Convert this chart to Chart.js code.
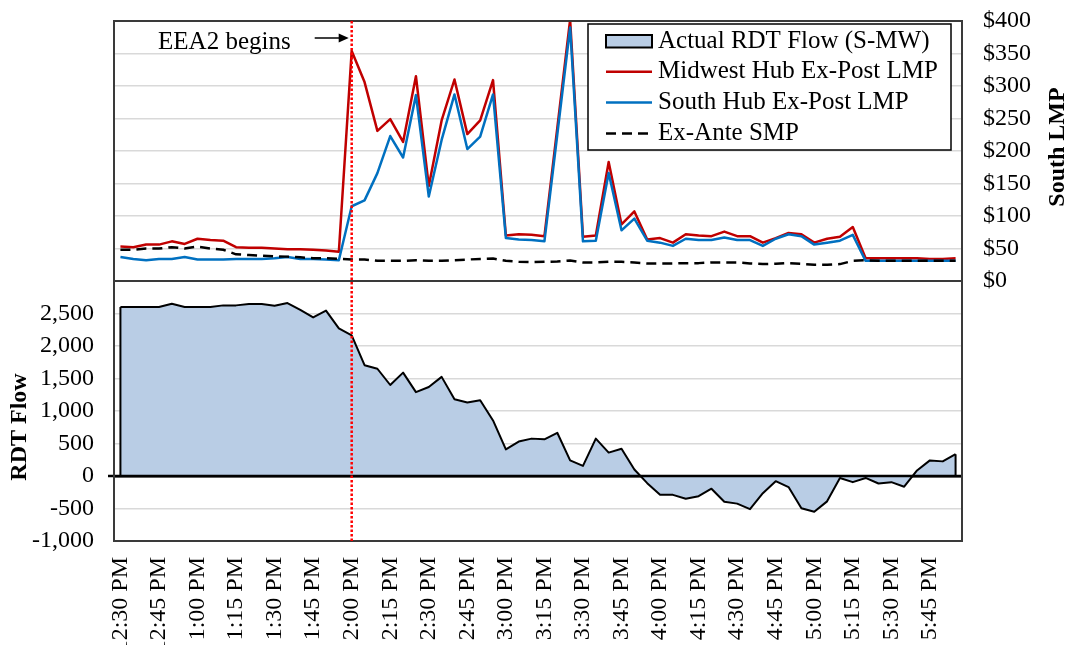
<!DOCTYPE html>
<html>
<head>
<meta charset="utf-8">
<title>RDT Flow and Hub LMPs</title>
<script src="https://cdn.jsdelivr.net/npm/chart.js@4/dist/chart.umd.min.js"></script>
<style>
  html, body { margin: 0; padding: 0; background: #fff; }
  #wrap { width: 1072px; height: 645px; }
</style>
</head>
<body>
<div id="wrap"><canvas id="rdtChart" width="1072" height="645"></canvas></div>
<script>
const timeLabels = [
    '12:30 PM', '12:35 PM', '12:40 PM', '12:45 PM', '12:50 PM', '12:55 PM',
    '1:00 PM', '1:05 PM', '1:10 PM', '1:15 PM', '1:20 PM', '1:25 PM',
    '1:30 PM', '1:35 PM', '1:40 PM', '1:45 PM', '1:50 PM', '1:55 PM',
    '2:00 PM', '2:05 PM', '2:10 PM', '2:15 PM', '2:20 PM', '2:25 PM',
    '2:30 PM', '2:35 PM', '2:40 PM', '2:45 PM', '2:50 PM', '2:55 PM',
    '3:00 PM', '3:05 PM', '3:10 PM', '3:15 PM', '3:20 PM', '3:25 PM',
    '3:30 PM', '3:35 PM', '3:40 PM', '3:45 PM', '3:50 PM', '3:55 PM',
    '4:00 PM', '4:05 PM', '4:10 PM', '4:15 PM', '4:20 PM', '4:25 PM',
    '4:30 PM', '4:35 PM', '4:40 PM', '4:45 PM', '4:50 PM', '4:55 PM',
    '5:00 PM', '5:05 PM', '5:10 PM', '5:15 PM', '5:20 PM', '5:25 PM',
    '5:30 PM', '5:35 PM', '5:40 PM', '5:45 PM', '5:50 PM', '5:55 PM'
];

// RDT flow, S-MW
const rdtFlow = [
    2600, 2600, 2600, 2600, 2650, 2600, 2600, 2600, 2625, 2625, 2645,
    2645, 2620, 2660, 2555, 2440, 2545, 2270, 2165, 1705, 1650, 1400,
    1590, 1290, 1370, 1525, 1180, 1130, 1165, 855, 410, 530, 575,
    565, 665, 240, 155, 575, 360, 420, 100, -110, -290, -290,
    -350, -310, -195, -395, -425, -510, -265, -80, -170, -495, -550,
    -390, -30, -95, -30, -115, -95, -165, 85, 240, 225, 335
];

const midwestLmp = [
    53, 52, 56, 56, 61, 57, 65, 63, 62, 52, 51,
    51, 50, 49, 49, 48, 47, 45, 354, 306, 231, 249,
    214, 315, 146, 247, 310, 226, 247, 309, 70, 72, 71,
    69, 235, 402, 68, 70, 183, 87, 107, 64, 66, 59,
    72, 70, 69, 76, 69, 69, 59, 66, 74, 72, 59,
    65, 68, 83, 35, 35, 35, 35, 35, 34, 34, 35
];

const southLmp = [
    37, 34, 32, 34, 34, 37, 33, 33, 33, 34, 34,
    34, 35, 37, 34, 34, 33, 32, 115, 124, 166, 223,
    190, 286, 130, 217, 287, 203, 222, 287, 66, 64, 63,
    61, 225, 390, 61, 62, 166, 78, 96, 62, 59, 54,
    65, 63, 63, 67, 63, 63, 54, 65, 72, 69, 56,
    59, 62, 71, 31, 31, 31, 31, 31, 31, 31, 31
];

const exAnteSmp = [
    48, 48, 50, 50, 52, 50, 53, 50, 48, 41, 40,
    39, 38, 37.5, 36.5, 35, 35, 34, 33, 33, 31, 31,
    31, 32, 31, 31, 32, 33, 34, 34.5, 31, 29.5, 29,
    29.5, 30, 31.5, 28.5, 28.5, 29.5, 29.5, 28.5, 27, 27, 27,
    27.5, 27.5, 28.5, 28.5, 28.5, 27, 26, 26.5, 27.5, 26.5, 25,
    25, 26, 31, 32, 31, 31, 31, 31, 31, 31, 31
];

const eea2Index = 18;      // 2:00 PM
const flowLabelMax = 2500; // flow axis labels stop here, LMP panel sits above

const serif = '"Liberation Serif", "Times New Roman", serif';
const gridGrey = '#d9d9d9';
const frameColor = '#3a3a3a';

// fixed axis boxes so the plot area lands where the panels belong
function fixWidth(width) {
    return scale => {
        scale.width = width;
        scale.paddingTop = 0;
        scale.paddingBottom = 0;
    };
}

const panelDecor = {
    id: 'panelDecor',
    afterDatasetsDraw(chart) {
        const { ctx, chartArea: a } = chart;
        const { x, yFlow, yLmp } = chart.scales;
        const zeroY = yFlow.getPixelForValue(0);
        const splitY = yLmp.getPixelForValue(0);
        const last = rdtFlow.length - 1;

        ctx.save();
        // close the flow area at both ends
        ctx.strokeStyle = '#000';
        ctx.lineWidth = 2;
        ctx.beginPath();
        ctx.moveTo(x.getPixelForValue(0), yFlow.getPixelForValue(rdtFlow[0]));
        ctx.lineTo(x.getPixelForValue(0), zeroY);
        ctx.moveTo(x.getPixelForValue(last), yFlow.getPixelForValue(rdtFlow[last]));
        ctx.lineTo(x.getPixelForValue(last), zeroY);
        ctx.stroke();

        ctx.lineWidth = 2.5;
        ctx.beginPath();
        ctx.moveTo(a.left - 6, zeroY);
        ctx.lineTo(a.right, zeroY);
        ctx.stroke();

        // frames of both panels
        ctx.strokeStyle = frameColor;
        ctx.lineWidth = 2;
        ctx.strokeRect(a.left, a.top, a.right - a.left, a.bottom - a.top);
        ctx.beginPath();
        ctx.moveTo(a.left, splitY);
        ctx.lineTo(a.right, splitY);
        ctx.stroke();

        // EEA2 start marker
        const ex = x.getPixelForValue(eea2Index);
        ctx.strokeStyle = '#ff0000';
        ctx.lineWidth = 2.5;
        ctx.setLineDash([2.5, 2]);
        ctx.beginPath();
        ctx.moveTo(ex, a.top);
        ctx.lineTo(ex, a.bottom);
        ctx.stroke();
        ctx.restore();
    },
    afterDraw(chart) {
        const { ctx, chartArea: a } = chart;
        const ex = chart.scales.x.getPixelForValue(eea2Index);

        ctx.save();
        ctx.fillStyle = '#000';
        ctx.strokeStyle = '#000';

        // annotation with arrow
        ctx.font = '25px ' + serif;
        ctx.textAlign = 'right';
        ctx.textBaseline = 'alphabetic';
        ctx.fillText('EEA2 begins', ex - 61, a.top + 28);
        ctx.lineWidth = 1.5;
        ctx.beginPath();
        ctx.moveTo(ex - 37, a.top + 17);
        ctx.lineTo(ex - 10, a.top + 17);
        ctx.stroke();
        ctx.beginPath();
        ctx.moveTo(ex - 3, a.top + 17);
        ctx.lineTo(ex - 13, a.top + 12.5);
        ctx.lineTo(ex - 13, a.top + 21.5);
        ctx.closePath();
        ctx.fill();

        // axis titles, both read bottom to top
        ctx.font = 'bold 24px ' + serif;
        ctx.textAlign = 'center';
        ctx.textBaseline = 'middle';
        [['RDT Flow', 20, 427], ['South LMP', 1058, 147]].forEach(([text, tx, ty]) => {
            ctx.save();
            ctx.translate(tx, ty);
            ctx.rotate(-Math.PI / 2);
            ctx.fillText(text, 0, 0);
            ctx.restore();
        });

        // legend box
        const box = { left: a.right - 374, top: a.top + 3, width: 363, height: 126 };
        ctx.fillStyle = '#fff';
        ctx.fillRect(box.left, box.top, box.width, box.height);
        ctx.lineWidth = 1.5;
        ctx.strokeStyle = '#000';
        ctx.strokeRect(box.left, box.top, box.width, box.height);

        ctx.font = '25px ' + serif;
        ctx.textAlign = 'left';
        ctx.textBaseline = 'middle';
        chart.data.datasets.forEach((ds, k) => {
            const cy = box.top + 17 + k * 30.8;
            const sx = box.left + 18;
            const sw = 46;
            ctx.save();
            if (ds.fill) {
                ctx.fillStyle = ds.backgroundColor;
                ctx.fillRect(sx, cy - 6, sw, 12.5);
                ctx.strokeStyle = ds.borderColor;
                ctx.lineWidth = 2;
                ctx.strokeRect(sx, cy - 6, sw, 12.5);
            } else {
                ctx.strokeStyle = ds.borderColor;
                ctx.lineWidth = ds.borderWidth;
                ctx.setLineDash(ds.borderDash || []);
                ctx.beginPath();
                ctx.moveTo(sx, cy);
                ctx.lineTo(sx + sw, cy);
                ctx.stroke();
            }
            ctx.restore();
            ctx.fillStyle = '#000';
            ctx.fillText(ds.label, sx + sw + 6, cy);
        });
        ctx.restore();
    }
};

new Chart(document.getElementById('rdtChart'), {
    type: 'line',
    data: {
        labels: timeLabels,
        datasets: [
            {
                label: 'Actual RDT Flow (S-MW)',
                data: rdtFlow,
                yAxisID: 'yFlow',
                fill: 'origin',
                backgroundColor: '#b9cde5',
                borderColor: '#000',
                borderWidth: 2,
                order: 3
            },
            {
                label: 'Midwest Hub Ex-Post LMP',
                data: midwestLmp,
                yAxisID: 'yLmp',
                fill: false,
                borderColor: '#c00000',
                borderWidth: 2.5,
                order: 2
            },
            {
                label: 'South Hub Ex-Post LMP',
                data: southLmp,
                yAxisID: 'yLmp',
                fill: false,
                borderColor: '#0070c0',
                borderWidth: 2.5,
                order: 1
            },
            {
                label: 'Ex-Ante SMP',
                data: exAnteSmp,
                yAxisID: 'yLmp',
                fill: false,
                borderColor: '#000',
                borderWidth: 2.5,
                borderDash: [10, 6],
                order: 0
            }
        ]
    },
    options: {
        responsive: false,
        animation: false,
        events: [],
        layout: { padding: { top: 21, left: 0, right: 0, bottom: 0 } },
        elements: {
            point: { radius: 0 },
            line: { tension: 0, borderJoinStyle: 'round' }
        },
        plugins: {
            legend: { display: false },
            tooltip: { enabled: false }
        },
        scales: {
            x: {
                offset: true,
                grid: { display: false, drawTicks: false },
                border: { display: false },
                ticks: {
                    autoSkip: false,
                    minRotation: 90,
                    maxRotation: 90,
                    padding: 16,
                    color: '#000',
                    font: { family: serif, size: 24 },
                    callback: (value, index) => index % 3 === 0 ? timeLabels[index] : ''
                },
                afterFit: scale => { scale.height = 104; }
            },
            yFlow: {
                position: 'left',
                min: -1000,
                max: 7000,
                border: { display: false },
                grid: {
                    drawTicks: false,
                    color: c => {
                        const v = c.tick.value;
                        if (v === 0) return '#000';
                        if (v === 3000) return frameColor;
                        return gridGrey;
                    },
                    lineWidth: c => (c.tick.value === 0 ? 2.5 : c.tick.value === 3000 ? 2 : 1.5)
                },
                ticks: {
                    autoSkip: false,
                    stepSize: 500,
                    padding: 20,
                    color: '#000',
                    font: { family: serif, size: 24 },
                    callback: value => value <= flowLabelMax ? value.toLocaleString('en-US') : ''
                },
                afterFit: fixWidth(114)
            },
            yLmp: {
                position: 'right',
                min: -400,
                max: 400,
                border: { display: false },
                grid: { display: false, drawTicks: false },
                ticks: {
                    autoSkip: false,
                    stepSize: 50,
                    padding: 21,
                    color: '#000',
                    font: { family: serif, size: 24 },
                    callback: value => value >= 0 ? '$' + value : ''
                },
                afterFit: fixWidth(110)
            }
        }
    },
    plugins: [panelDecor]
});
</script>
</body>
</html>
